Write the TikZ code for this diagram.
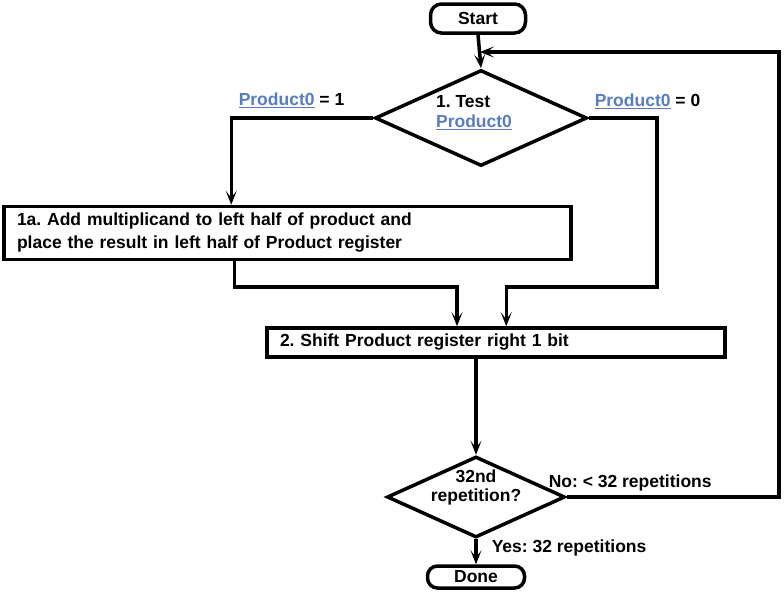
\documentclass[tikz,border=0pt]{standalone}
\usepackage{fontspec}
\setmainfont{Liberation Sans}
\usetikzlibrary{shapes.geometric,arrows.meta,calc}
\definecolor{linkblue}{RGB}{88,126,192}
\newcommand{\pzero}{\textcolor{linkblue}{\underline{Product0}}}
\frenchspacing
\tikzset{
  term/.style={draw, rectangle, rounded corners=11pt, inner sep=0pt},
  dec/.style={draw, diamond, inner sep=0pt},
  dectext/.style={inner sep=0pt},
  proc/.style={draw, rectangle, inner sep=0pt, align=left},
  arr/.style={-{Stealth[length=14pt,width=11pt,inset=7pt]}},
  lbl/.style={anchor=west, inner sep=0pt},
}
\begin{document}
\begin{tikzpicture}[x=1pt,y=-1pt,line width=3.5pt,font=\fontsize{17.5}{20}\selectfont\bfseries]
\useasboundingbox (0,0) rectangle (784,598);
\node[term, minimum width=95pt, minimum height=29pt] (start) at (478,18.5) {Start};
\node[dec, minimum width=212pt, minimum height=96pt] (d1) at (481,118) {};
\node[dectext, align=left, font=\fontsize{17.5}{20}\selectfont\bfseries] (d1t) at (474,113) {1. Test\\\pzero};
\node[proc, minimum width=567pt, minimum height=53pt, text width=541pt,
      font=\fontsize{17.5}{23}\selectfont\bfseries] (b1) at (287.5,233)
  {1a. Add multiplicand to left half of product and\\place the result in left half of Product register};
\node[proc, minimum width=458pt, minimum height=29pt, text width=432pt] (b2) at (496,342.5)
  {2. Shift Product register right 1 bit};
\node[dec, minimum width=178pt, minimum height=81pt] (d2) at (476,497) {};
\node[dectext, align=center, font=\fontsize{17.5}{19}\selectfont\bfseries] (d2t) at (476,487) {32nd\\repetition?};
\node[term, rounded corners=10pt, minimum width=97pt, minimum height=22pt] (done) at (476,577) {Done};

\node[lbl] (l1) at (237,100) {\pzero\ = 1};
\node[lbl] (l0) at (593,101) {\pzero\ = 0};
\node[lbl] (lno) at (547,483) {No: < 32 repetitions};
\node[lbl] (lyes) at (490,548) {Yes: 32 repetitions};

\coordinate (j) at (480,52);
\coordinate (loopc) at (779,52);
\coordinate (r1) at (657,287);
\coordinate (m1) at (457,287);

\draw[arr] (start.south) -- (d1.north);
\draw[arr] (d1.west) -| ([xshift=229pt]b1.north west);
\draw[arr] (d1.east) -| (r1) -| ([xshift=241pt]b2.north west);
\draw[arr] ([xshift=232pt]b1.south west) |- (m1) -- (b2.north -| m1);
\draw[arr] (b2.south -| d2.north) -- (d2.north);
\draw[arr] (d2.east) -| (loopc) -- (j);
\draw[arr] (d2.south) -- (done.north);
\end{tikzpicture}
\end{document}
